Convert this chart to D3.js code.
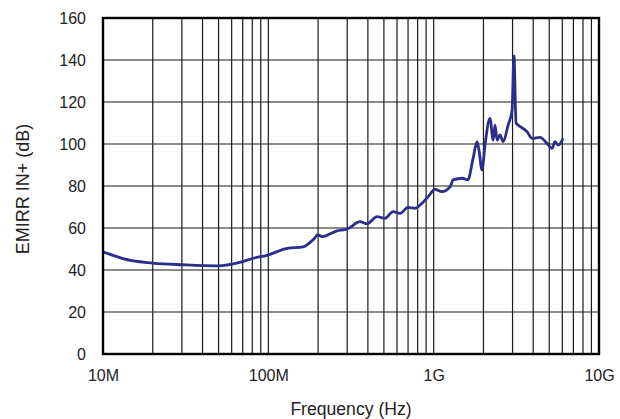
<!DOCTYPE html>
<html>
<head>
<meta charset="utf-8">
<script src="https://cdn.jsdelivr.net/npm/d3@7"></script>
<style>
  body { margin: 0; background: #fff; }
  text { font-family: "Liberation Sans", Arial, sans-serif; fill: #222; }
</style>
</head>
<body>
<div id="chart"></div>
<script>
// curve: frequency (Hz) and EMIRR (dB)
const freqHz = [
  10e6, 11.5e6, 13.2e6, 20e6, 30.5e6, 49e6, 70e6, 81e6, 98e6, 130e6, 162e6,
  186e6, 200e6, 211e6, 260e6, 300e6, 359e6, 395e6, 455e6, 508e6, 568e6,
  627e6, 700e6, 772e6, 851e6, 925e6, 1.02e9, 1.12e9, 1.26e9, 1.31e9, 1.49e9,
  1.61e9, 1.73e9, 1.83e9, 1.88e9, 1.96e9, 2.05e9, 2.19e9, 2.29e9, 2.35e9, 2.42e9,
  2.52e9, 2.63e9, 2.82e9, 2.98e9, 3.06e9, 3.15e9, 3.24e9, 3.67e9, 3.94e9, 4.40e9,
  4.85e9, 5.20e9, 5.42e9, 5.66e9, 6.07e9
];
const emirrDb = [
  48.5, 47.0, 45.4, 43.3, 42.5, 42.0, 44.0, 45.6, 47.0, 50.3, 51.0,
  54.3, 56.7, 55.9, 58.6, 59.5, 63.0, 62.0, 65.4, 64.6, 67.8,
  67.0, 69.8, 69.4, 71.8, 74.9, 78.4, 77.3, 79.7, 82.9, 83.7,
  82.9, 93.0, 101.1, 97.0, 87.6, 100.3, 112.2, 101.9, 109.0, 101.9,
  104.3, 101.1, 109.0, 116.0, 141.9, 110.0, 109.0, 105.9, 102.7, 103.2,
  100.3, 97.9, 101.1, 99.5, 102.7
];
const xTicks = [1e7, 1e8, 1e9, 1e10];
const xTickLabels = ["10M", "100M", "1G", "10G"];
const yTicks = [0, 20, 40, 60, 80, 100, 120, 140, 160];

const svgW = 620, svgH = 419;
const margin = { top: 18, right: 21, bottom: 65, left: 103 };
const width = svgW - margin.left - margin.right,
      height = svgH - margin.top - margin.bottom;

const svg = d3.select("#chart").append("svg")
  .attr("width", svgW)
  .attr("height", svgH);
const g = svg.append("g")
  .attr("transform", "translate(" + margin.left + "," + margin.top + ")");

const x = d3.scaleLog().domain([1e7, 1e10]).range([0, width]);
const y = d3.scaleLinear().domain([0, 160]).range([height, 0]);

// minor + major vertical grid (2..9 of each decade)
const vGrid = [];
[1e7, 1e8, 1e9].forEach(function (dec) {
  for (let k = 1; k <= 9; k++) vGrid.push(dec * k);
});
g.selectAll(".vgrid")
  .data(vGrid.slice(1))
  .enter().append("line")
  .attr("class", "vgrid")
  .attr("x1", function (d) { return x(d); })
  .attr("x2", function (d) { return x(d); })
  .attr("y1", 0).attr("y2", height)
  .attr("stroke", "#1a1a1a")
  .attr("stroke-width", 1.2);

g.selectAll(".hgrid")
  .data(yTicks.slice(1, -1))
  .enter().append("line")
  .attr("class", "hgrid")
  .attr("x1", 0).attr("x2", width)
  .attr("y1", function (d) { return y(d); })
  .attr("y2", function (d) { return y(d); })
  .attr("stroke", "#1a1a1a")
  .attr("stroke-width", 1.2);

// curve
const pts = freqHz.map(function (f, i) { return [f, emirrDb[i]]; });
g.append("path")
  .datum(pts)
  .attr("fill", "none")
  .attr("stroke", "#2c2e8c")
  .attr("stroke-width", 2.8)
  .attr("stroke-linejoin", "round")
  .attr("d", d3.line()
    .curve(d3.curveMonotoneX)
    .x(function (d) { return x(d[0]); })
    .y(function (d) { return y(d[1]); }));

// frame
g.append("rect")
  .attr("width", width).attr("height", height)
  .attr("fill", "none")
  .attr("stroke", "#000")
  .attr("stroke-width", 2.4);

// axes (labels only)
const xAxis = g.append("g")
  .attr("transform", "translate(0," + height + ")")
  .call(d3.axisBottom(x).tickValues(xTicks)
    .tickFormat(function (d, i) { return xTickLabels[i]; })
    .tickSize(0).tickPadding(16));
const yAxis = g.append("g")
  .call(d3.axisLeft(y).tickValues(yTicks).tickSize(0).tickPadding(17));
[xAxis, yAxis].forEach(function (a) {
  a.select(".domain").remove();
  a.selectAll("text")
    .style("font-family", "'Liberation Sans', Arial, sans-serif")
    .style("font-size", "16px")
    .attr("fill", "#222");
});

// titles
svg.append("text")
  .attr("x", margin.left + width / 2)
  .attr("y", 415)
  .attr("text-anchor", "middle")
  .style("font-size", "17.6px")
  .text("Frequency (Hz)");

svg.append("text")
  .attr("transform", "translate(29," + (margin.top + 171) + ") rotate(-90)")
  .attr("text-anchor", "middle")
  .style("font-size", "18px")
  .text("EMIRR IN+ (dB)");
</script>
</body>
</html>
